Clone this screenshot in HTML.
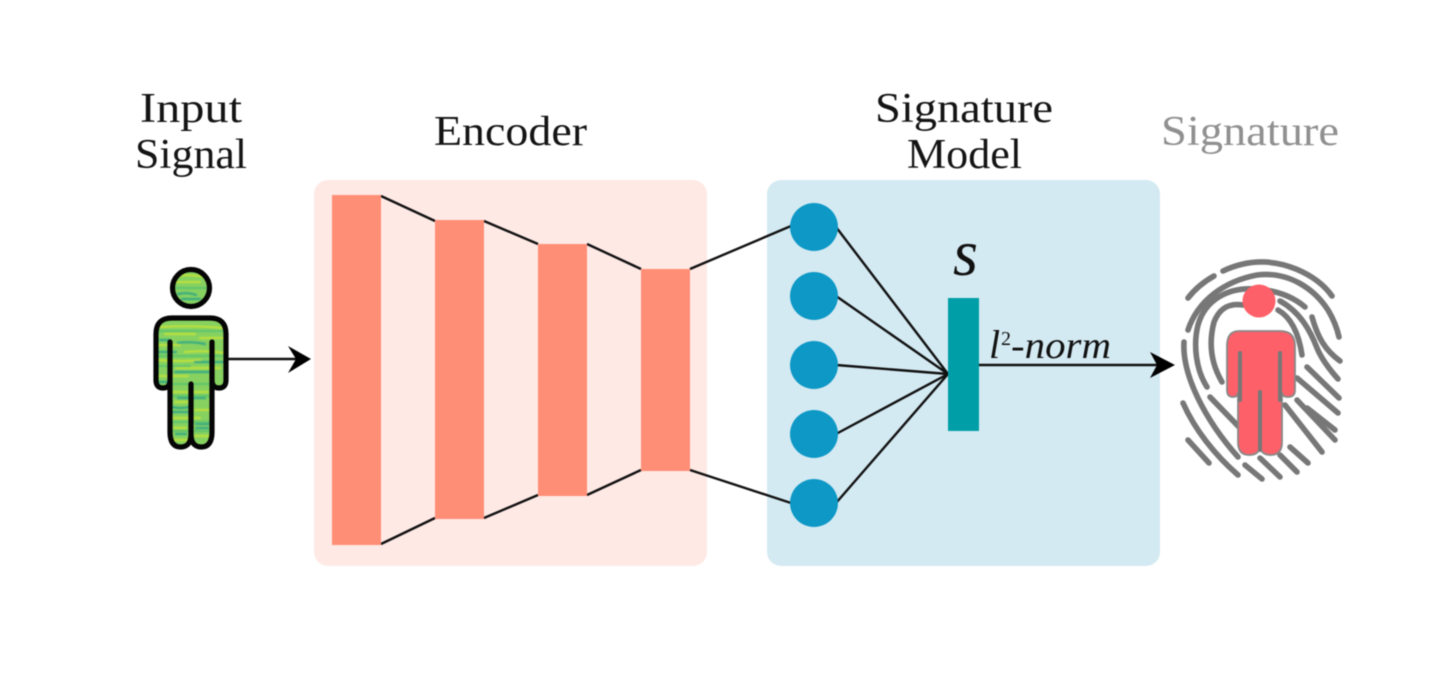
<!DOCTYPE html>
<html>
<head>
<meta charset="utf-8">
<style>
html,body{margin:0;padding:0;background:#fff;width:1456px;height:678px;overflow:hidden}
svg{display:block;filter:blur(0.5px)}
text{font-family:"Liberation Serif",serif}
</style>
</head>
<body>
<svg width="1456" height="678" viewBox="0 0 1456 678" xmlns="http://www.w3.org/2000/svg">
<defs>
<clipPath id="pc">
<circle cx="191" cy="288" r="18"/>
<path d="M172 318H210Q226 318 226 334V380Q226 388 219 388Q212 388 211 384V432Q211 446 201 446Q191 446 191 434Q191 446 181 446Q171 446 171 432V384Q170 388 163 388Q156 388 156 380V334Q156 318 172 318Z"/>
</clipPath>
<filter id="soft" x="-10%" y="-10%" width="120%" height="120%"><feGaussianBlur stdDeviation="0.6"/></filter>
</defs>
<rect width="1456" height="678" fill="#fff"/>

<rect x="314" y="180" width="393" height="386" rx="14" fill="#fee9e5"/>
<rect x="767" y="180" width="393" height="386" rx="14" fill="#d4eaf3"/>

<!-- encoder -->
<g stroke="#111" stroke-width="2.400" fill="none">
<path d="M381 196L435 221M381 544L435 518M484 221L538 244M484 518L538 495M587 244L641 269M587 495L641 470M690 269L791 226M690 470L791 503"/>
</g>
<g fill="#ff8e76">
<rect x="332" y="195" width="49" height="350"/>
<rect x="435" y="220" width="49" height="299"/>
<rect x="538" y="244" width="49" height="252"/>
<rect x="641" y="269" width="49" height="202"/>
</g>

<!-- signature model -->
<g stroke="#111" stroke-width="2.400" fill="none">
<path d="M836 227L948 374M836 296L948 374M836 365L948 374M836 434L948 374M836 503L948 374"/>
</g>
<g fill="#0d98c6">
<circle cx="814" cy="227" r="24"/>
<circle cx="814" cy="296" r="24"/>
<circle cx="814" cy="365" r="24"/>
<circle cx="814" cy="434" r="24"/>
<circle cx="814" cy="503" r="24"/>
</g>
<rect x="948" y="298" width="31" height="133" fill="#009fa7"/>
<path d="M979 365H1160" stroke="#111" stroke-width="2.600"/>
<path d="M1175 365L1150 352L1157 365L1150 378Z" fill="#000"/>

<!-- input arrow -->
<path d="M228 359H298" stroke="#111" stroke-width="2.600"/>
<path d="M311 359L288 346L296 359L288 373Z" fill="#000"/>

<!-- green person -->
<g clip-path="url(#pc)">
<rect x="150" y="265" width="85" height="190" fill="#86d160"/>
<g fill="none" stroke-width="2.200" stroke-linecap="round" filter="url(#soft)">
<path stroke="#bce03c" d="M172 276Q190 274 205 277M175 282H200M160 327Q190 325 222 328M165 334H195M200 338H224M158 345H180M185 352Q205 350 224 353M158 360Q180 362 200 360M176 368H220M158 376H188M172 392H208M175 402H190M195 410H210M172 418H200M174 428H186M195 436H210M174 440H188"/>
<path stroke="#38aa82" d="M178 294Q188 292 196 295M182 299H200M160 340H170M178 343Q190 341 205 344M158 352H176M195 362H224M175 372H210M158 382H170M178 398H205M172 407Q180 409 190 407M172 412H188M196 424H210M176 434H186M196 428H208"/>
<path stroke="#62c56a" d="M170 288H210M158 331H224M158 356H224M158 366H190M172 384H210M172 396H210M172 422H210M172 431H210"/>
</g>
</g>
<g fill="none" stroke="#050505" stroke-width="5.200" stroke-linecap="round" stroke-linejoin="round">
<circle cx="191" cy="288" r="18.500"/>
<path d="M172 318H210Q226 318 226 334V380Q226 388 219 388Q212 388 212 380V342M212 380V432Q212 447 201.500 447Q191 447 191 434V384M191 434Q191 447 180.500 447Q170 447 170 432V342M170 380Q170 388 163 388Q156 388 156 380V334Q156 318 172 318"/>
</g>

<!-- fingerprint -->
<g fill="none" stroke="#777" stroke-width="5.600" stroke-linecap="round" stroke-linejoin="round">
<path d="M1223 271Q1259 254 1296 269Q1320 279 1332 296"/>
<path d="M1188 298Q1198 285 1214 276"/>
<path d="M1188 330C1198 300 1225 281 1257 275C1290 271 1315 290 1328 310C1334 320 1337 328 1339 337"/>
<path d="M1184 342C1182 375 1205 420 1238 457"/>
<path d="M1207 387C1196 370 1193 345 1198 325C1205 300 1228 287 1255 289C1275 290 1292 296 1305 307"/>
<path d="M1222 382C1212 365 1208 345 1214 322C1220 307 1230 303 1243 305"/>
<path d="M1278 310C1292 318 1299 335 1302 355"/>
<path d="M1312 317C1318 338 1325 350 1340 361"/>
<path d="M1280 301C1300 312 1310 330 1317 348C1322 360 1330 370 1338 379"/>
<path d="M1307 367L1339 398"/>
<path d="M1297 378L1338 413"/>
<path d="M1307 408L1335 430"/>
<path d="M1285 405L1322 452"/>
<path d="M1297 400L1335 440"/>
<path d="M1290 447L1308 463"/>
<path d="M1210 397L1240 428"/>
<path d="M1183 403C1195 430 1215 455 1238 475"/>
<path d="M1188 440L1209 463"/>
<path d="M1245 465L1262 479"/>
<path d="M1260 458L1280 477"/>
<path d="M1280 455L1297 472"/>
</g>

<!-- red person -->
<path d="M1239 331H1280Q1295 331 1295 346V390Q1295 397 1288 397Q1282 397 1282 392V442Q1282 455 1271 455Q1260 455 1260 445Q1260 455 1249 455Q1238 455 1238 442V392Q1238 397 1233 397Q1227 397 1227 390V346Q1227 331 1239 331Z" fill="#fd6068" stroke="#888" stroke-width="1.800"/>
<path d="M1244 325Q1260 330 1276 325L1280 329H1240Z" fill="#fff"/>
<circle cx="1259" cy="301" r="16.500" fill="#fd6068"/>
<path d="M1240 353V400M1280 353V400M1260 392V450" stroke="#777" stroke-width="4" stroke-linecap="round" fill="none"/>

<!-- labels -->
<g font-size="42" fill="#141414">
<text x="140" y="122" textLength="102" lengthAdjust="spacingAndGlyphs">Input</text>
<text x="135" y="168" textLength="112" lengthAdjust="spacingAndGlyphs">Signal</text>
<text x="434" y="145" textLength="153" lengthAdjust="spacingAndGlyphs">Encoder</text>
<text x="875" y="122" textLength="178" lengthAdjust="spacingAndGlyphs">Signature</text>
<text x="907" y="168" textLength="115" lengthAdjust="spacingAndGlyphs">Model</text>
<text x="1161" y="145" textLength="178" lengthAdjust="spacingAndGlyphs" fill="#909090">Signature</text>
</g>
<text x="953" y="275" font-size="66" font-style="italic" fill="#111" textLength="25" lengthAdjust="spacingAndGlyphs">s</text>
<text x="989" y="358" font-size="40" font-style="italic" fill="#111">l</text>
<text x="1001" y="345" font-size="20" fill="#111">2</text>
<text x="1011" y="358" font-size="38" font-style="italic" fill="#111" textLength="100" lengthAdjust="spacingAndGlyphs">-norm</text>
</svg>
</body>
</html>
